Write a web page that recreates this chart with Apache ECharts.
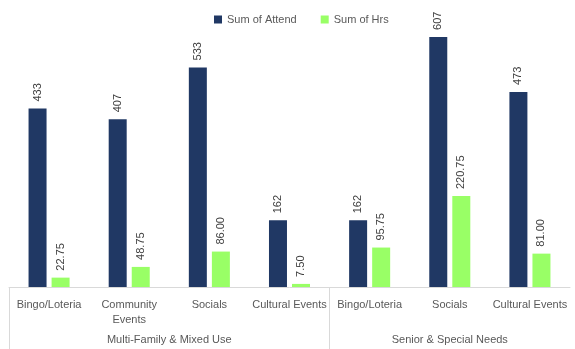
<!DOCTYPE html>
<html>
<head>
<meta charset="utf-8">
<script src="https://cdn.jsdelivr.net/npm/echarts@6/dist/echarts.min.js"></script>
<style>
  html, body { margin: 0; padding: 0; background: #ffffff; }
  #chart { width: 575px; height: 349px; }
</style>
</head>
<body>
<div id="chart"></div>
<script>
// Activity categories (inner level) and their program groups (outer level)
const categories = ['Bingo/Loteria', 'Community\nEvents', 'Socials', 'Cultural Events',
                    'Bingo/Loteria', 'Socials', 'Cultural Events'];
const groupNames = ['Multi-Family & Mixed Use', 'Senior & Special Needs'];
const groupSizes = [4, 3];

// Series values
const attend = [433, 407, 533, 162, 162, 607, 473];
const hours = [22.75, 48.75, 86.00, 7.50, 95.75, 220.75, 81.00];

const navy = '#203864';
const green = '#99FF66';
const textColor = '#595959';
const fontFamily = 'Liberation Sans, Arial, sans-serif';

// Outer-axis tick positions (group boundaries) and label positions (group centres)
const groupEdges = [];
const groupCentres = [];
let start = 0;
groupSizes.forEach(n => {
  groupEdges.push(start);
  groupCentres.push(start + n / 2);
  start += n;
});
const total = start;

const chart = echarts.init(document.getElementById('chart'));
chart.setOption({
  animation: false,
  backgroundColor: '#ffffff',
  textStyle: { fontFamily: fontFamily },
  legend: {
    top: 9,
    left: 209,
    itemWidth: 8,
    itemHeight: 8,
    itemGap: 24,
    icon: 'rect',
    textStyle: { color: textColor, fontSize: 11, fontFamily: fontFamily },
    data: ['Sum of Attend', 'Sum of Hrs']
  },
  grid: { left: 9, right: 5, top: 20, bottom: 62, containLabel: false },
  xAxis: [
    {
      type: 'category',
      data: categories,
      axisLine: { lineStyle: { color: '#d9d9d9', width: 1 } },
      axisTick: { show: false },
      axisLabel: {
        interval: 0,
        color: textColor,
        fontSize: 11,
        margin: 10,
        lineHeight: 15,
        fontFamily: fontFamily
      }
    },
    {
      type: 'value',
      position: 'bottom',
      min: 0,
      max: total,
      axisLine: { show: false },
      splitLine: { show: false },
      axisTick: {
        show: true,
        customValues: groupEdges,
        length: 62,
        inside: false,
        lineStyle: { color: '#d9d9d9', width: 1 }
      },
      axisLabel: {
        customValues: groupCentres,
        color: textColor,
        fontSize: 11,
        margin: 47,
        fontFamily: fontFamily,
        formatter: function (v) {
          const i = groupCentres.indexOf(v);
          return i >= 0 ? groupNames[i] : '';
        }
      }
    }
  ],
  yAxis: {
    type: 'value',
    min: 0,
    max: 648,
    show: false,
    splitLine: { show: false }
  },
  series: [
    {
      name: 'Sum of Attend',
      type: 'bar',
      xAxisIndex: 0,
      data: attend,
      barWidth: 18,
      barGap: '28%',
      itemStyle: { color: navy },
      label: {
        show: true,
        position: 'top',
        rotate: 90,
        align: 'left',
        verticalAlign: 'middle',
        distance: 7,
        color: '#404040',
        fontSize: 11,
        fontFamily: fontFamily,
        formatter: p => String(p.value)
      }
    },
    {
      name: 'Sum of Hrs',
      type: 'bar',
      xAxisIndex: 0,
      data: hours,
      barWidth: 18,
      itemStyle: { color: green },
      label: {
        show: true,
        position: 'top',
        rotate: 90,
        align: 'left',
        verticalAlign: 'middle',
        distance: 7,
        color: '#404040',
        fontSize: 11,
        fontFamily: fontFamily,
        formatter: p => p.value.toFixed(2)
      }
    }
  ]
});
</script>
</body>
</html>
